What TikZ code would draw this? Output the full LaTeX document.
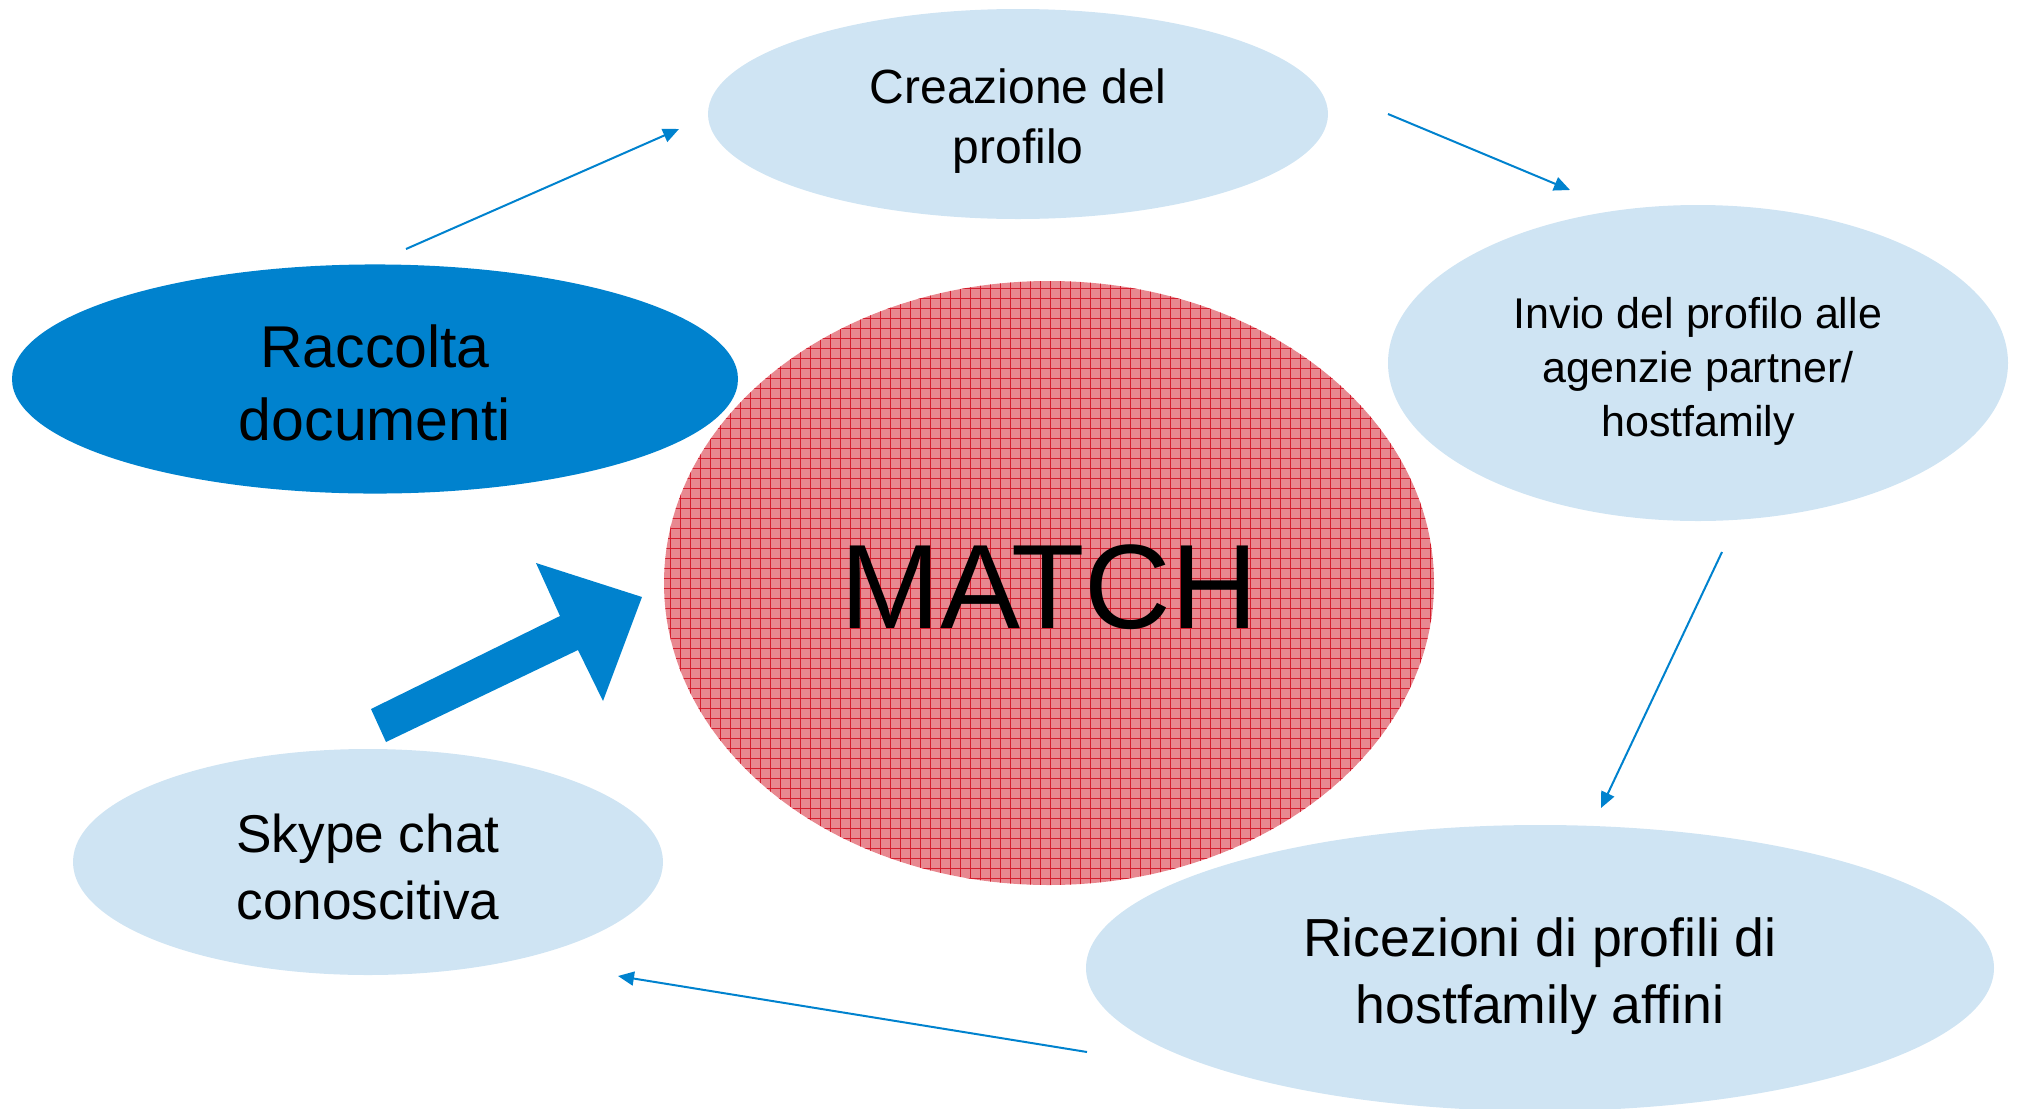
\documentclass[tikz,border=0pt]{standalone}
\usepackage{fontspec}
\setmainfont{Liberation Sans}
\usetikzlibrary{shapes.geometric,arrows.meta}
\definecolor{lblue}{RGB}{207,228,243}
\definecolor{dblue}{RGB}{0,130,206}
\definecolor{mpink}{RGB}{232,136,144}
\definecolor{mred}{RGB}{212,30,46}
\newcommand{\mytop}[1]{\rule{0pt}{#1}}
\newcommand{\mybot}{\rule[-10pt]{0pt}{10pt}}
\begin{document}
\begin{tikzpicture}[x=0.5pt,y=-0.5pt,
  ell/.style={ellipse, inner sep=0pt, align=center, text=black},
  light/.style={ell, fill=lblue},
  conn/.style={draw=dblue, line width=1pt, -{Triangle[length=8pt,width=7pt]}}]
\useasboundingbox (0,0) rectangle (2020,1109);
% ellipses
\node[light, minimum width=310pt, minimum height=105pt,
  font=\fontsize{24}{30}\selectfont] (creaz) at (1018,114)
  {\mytop{29pt}Creazione del\\profilo\mybot};
\node[light, minimum width=310pt, minimum height=158pt,
  font=\fontsize{21.5}{27}\selectfont] (invio) at (1698,363)
  {\mytop{29pt}Invio del profilo alle\\agenzie partner/\\hostfamily\mybot};
\node[light, minimum width=454pt, minimum height=143pt,
  font=\fontsize{26.8}{33.5}\selectfont] (ricez) at (1540,968)
  {\mytop{31.5pt}Ricezioni di profili di\\hostfamily affini\mybot};
\node[light, minimum width=295pt, minimum height=113pt,
  font=\fontsize{26.6}{33.5}\selectfont] (skype) at (368,862)
  {\mytop{33.5pt}Skype chat\\conoscitiva\mybot};
\node[ell, fill=dblue, minimum width=363pt, minimum height=113pt,
  font=\fontsize{29.5}{36.5}\selectfont] (racc) at (375,379)
  {\mytop{34.5pt}Raccolta\\documenti\mybot};
\node[ell, fill=mpink, minimum width=385pt, minimum height=302pt,
  font=\fontsize{60}{62}\selectfont,
  path picture={\draw[mred, line width=0.5pt]
    (path picture bounding box.south west) grid[step=5pt] (path picture bounding box.north east);}]
  (match) at (1049,583) {\mytop{55pt}MATCH\mybot};
% connector end points
\coordinate (a1s) at (406,249);  \coordinate (a1e) at (679,129);
\coordinate (a2s) at (1388,114); \coordinate (a2e) at (1570,190);
\coordinate (a3s) at (1722,552); \coordinate (a3e) at (1601,808);
\coordinate (a4s) at (1087,1052);\coordinate (a4e) at (618,976);
\draw[conn] (a1s) -- (a1e);
\draw[conn] (a2s) -- (a2e);
\draw[conn] (a3s) -- (a3e);
\draw[conn] (a4s) -- (a4e);
% big arrow
\fill[dblue] (371,709) -- (560,616) -- (536,563) -- (642,597) -- (603,701) -- (578,650) -- (386,742) -- cycle;
\end{tikzpicture}
\end{document}
